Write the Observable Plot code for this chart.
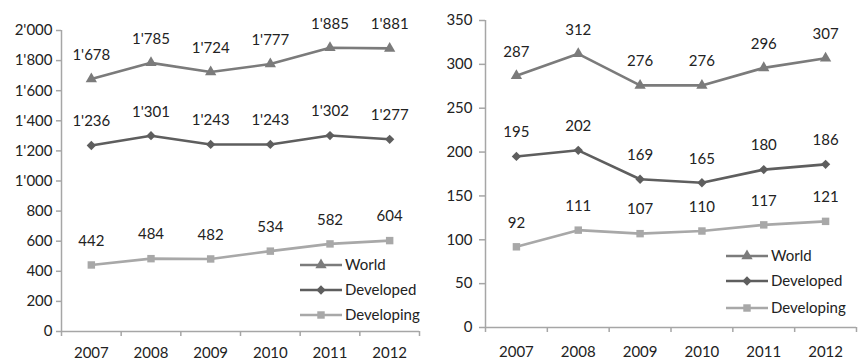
<!DOCTYPE html>
<html>
<head>
<meta charset="utf-8">
<script src="https://cdn.jsdelivr.net/npm/d3@7"></script>
<script src="https://cdn.jsdelivr.net/npm/@observablehq/plot@0.6"></script>
<style>
  html, body { margin: 0; padding: 0; background: #fff; }
  #wrap { position: relative; width: 858px; height: 360px; display: flex; font-family: Lato, sans-serif; }
  #wrap > div { position: relative; }
  .legend { position: absolute; left: 0; top: 0; pointer-events: none; }
</style>
</head>
<body>
<div id="wrap"><div id="left"></div><div id="right"></div></div>
<script>
const years = [2007, 2008, 2009, 2010, 2011, 2012];
const seriesNames = ["World", "Developed", "Developing"];
const seriesColors = ["#7b7b7b", "#5e5e5e", "#a8a8a8"];
const seriesSymbols = ["triangle", "diamond2", "square"];

const leftWorld = [1678, 1785, 1724, 1777, 1885, 1881];
const leftDeveloped = [1236, 1301, 1243, 1243, 1302, 1277];
const leftDeveloping = [442, 484, 482, 534, 582, 604];
const leftTicks = [0, 200, 400, 600, 800, 1000, 1200, 1400, 1600, 1800, 2000];

const rightWorld = [287, 312, 276, 276, 296, 307];
const rightDeveloped = [195, 202, 169, 165, 180, 186];
const rightDeveloping = [92, 111, 107, 110, 117, 121];
const rightTicks = [0, 50, 100, 150, 200, 250, 300, 350];

const fmt = d3.formatLocale({decimal: ".", thousands: "'", grouping: [3], currency: ["", ""]}).format(",d");
const boundaries = [...years.map(y => y - 0.5), years[years.length - 1] + 0.5];
const axisColor = "#a6a6a6";

function rows(lists) {
  const out = [];
  lists.forEach((vals, si) => vals.forEach((v, i) => out.push({year: years[i], series: seriesNames[si], value: v})));
  return out;
}

function panel(o) {
  return Plot.plot({
    width: o.width, height: 360,
    marginLeft: o.ml, marginRight: o.mr, marginTop: o.mt, marginBottom: o.mb,
    style: {fontFamily: "Lato, sans-serif", fontSize: "15px", color: "#222", background: "#fff"},
    x: {type: "linear", domain: [boundaries[0], boundaries[boundaries.length - 1]]},
    y: {domain: [0, o.ticks[o.ticks.length - 1]]},
    color: {domain: seriesNames, range: seriesColors},
    symbol: {domain: seriesNames, range: seriesSymbols},
    marks: [
      Plot.axisY(o.ticks, {tickSize: o.yTickSize, tickPadding: o.yTickPad, tickFormat: fmt, stroke: axisColor, strokeWidth: 1.5, label: null, fontSize: 15}),
      Plot.axisX(boundaries, {tickSize: 5, tickFormat: () => "", stroke: axisColor, strokeWidth: 1.5, label: null}),
      Plot.axisX(years, {tickSize: 0, tickPadding: o.xTickPad, tickFormat: d => String(d), label: null, fontSize: 15}),
      Plot.ruleX([boundaries[0]], {stroke: axisColor, strokeWidth: 1.5}),
      Plot.ruleY([0], {stroke: axisColor, strokeWidth: 1.5}),
      Plot.line(o.data, {x: "year", y: "value", z: "series", stroke: "series", strokeWidth: 2.6}),
      Plot.dot(o.data, {x: "year", y: "value", symbol: "series", fill: "series", r: 4.2}),
      Plot.text(o.data, {x: "year", y: "value", text: d => fmt(d.value), dy: -24, fill: "#222", fontSize: 15})
    ]
  });
}

function legend(container, x0, rowsY) {
  const svg = d3.select(container).append("svg").attr("class", "legend")
    .attr("width", 429).attr("height", 360);
  const sym = {triangle: d3.symbolTriangle, diamond2: d3.symbolDiamond2, square: d3.symbolSquare};
  seriesNames.forEach((name, i) => {
    const g = svg.append("g").attr("transform", `translate(${x0},${rowsY[i]})`);
    g.append("line").attr("x1", 0).attr("x2", 42).attr("stroke", seriesColors[i]).attr("stroke-width", 2.6);
    g.append("path").attr("transform", "translate(21,0)")
      .attr("d", d3.symbol(sym[seriesSymbols[i]], 4.2 * 4.2 * Math.PI)()).attr("fill", seriesColors[i]);
    g.append("text").attr("x", 45).attr("dy", "0.35em").attr("fill", "#222")
      .style("font-family", "Lato, sans-serif").style("font-size", "15px").text(name);
  });
}

const left = document.getElementById("left");
left.appendChild(panel({
  data: rows([leftWorld, leftDeveloped, leftDeveloping]), ticks: leftTicks,
  width: 429, ml: 61, mr: 10, mt: 30, mb: 29, yTickSize: 5, yTickPad: 4, xTickPad: 16
}));
legend(left, 300, [265, 290, 315]);

const right = document.getElementById("right");
right.appendChild(panel({
  data: rows([rightWorld, rightDeveloped, rightDeveloping]), ticks: rightTicks,
  width: 429, ml: 56, mr: 2, mt: 20, mb: 33, yTickSize: 6, yTickPad: 7, xTickPad: 19
}));
legend(right, 297, [256, 281, 308]);
</script>
</body>
</html>
